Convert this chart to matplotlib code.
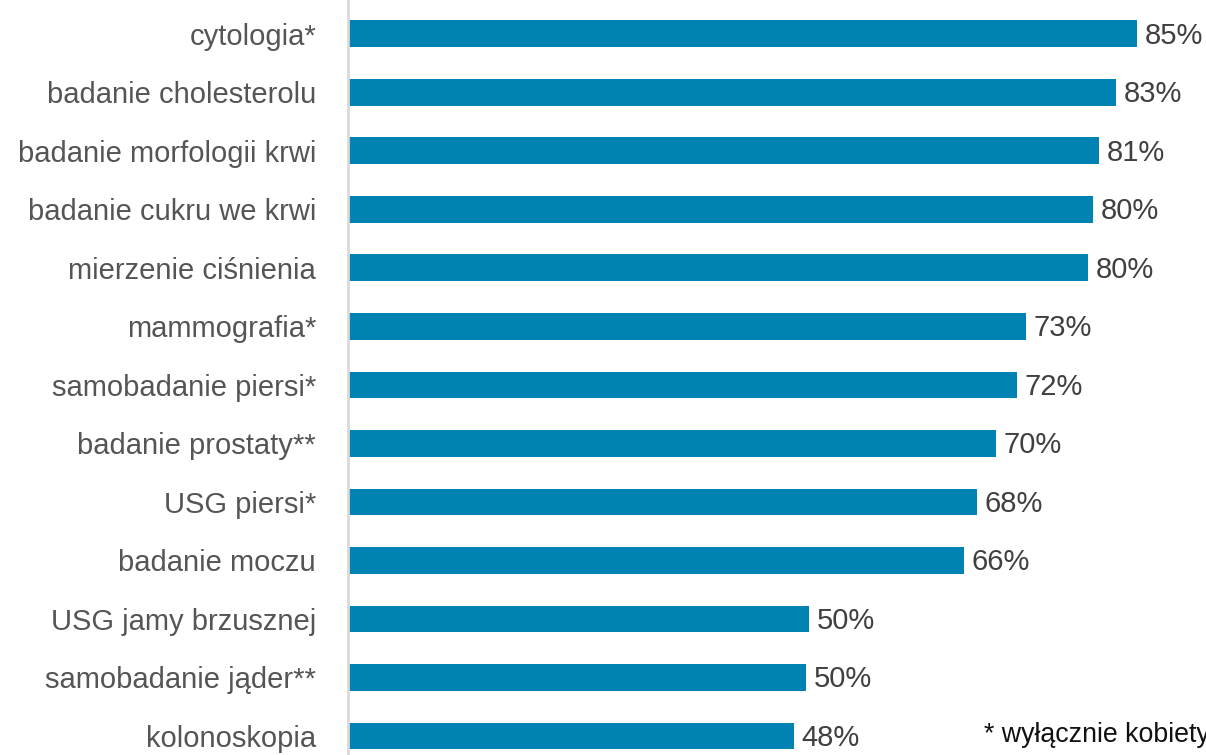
import matplotlib
matplotlib.use("Agg")
import matplotlib.pyplot as plt

categories = [
    "cytologia*", "badanie cholesterolu", "badanie morfologii krwi",
    "badanie cukru we krwi", "mierzenie ciśnienia", "mammografia*",
    "samobadanie piersi*", "badanie prostaty**", "USG piersi*",
    "badanie moczu", "USG jamy brzusznej", "samobadanie jąder**",
    "kolonoskopia",
]
values = [85.0, 82.7, 80.9, 80.2, 79.7, 73.0, 72.0, 69.8, 67.7, 66.3, 49.6, 49.3, 48.0]
value_labels = ["85%", "83%", "81%", "80%", "80%", "73%", "72%", "70%", "68%",
                "66%", "50%", "50%", "48%"]
footnotes = ["* wyłącznie kobiety", "** wyłącznie mężczyźni"]

plt.rcParams['font.family'] = ['Liberation Sans', 'DejaVu Sans']

fig = plt.figure(figsize=(12.06, 7.55), dpi=100)
ax = fig.add_axes([348 / 1206, 0, 1 - 348 / 1206, 1])

ypos = list(range(len(categories)))
bar_color = "#0083B3"
ax.barh(ypos, values, height=0.46, color=bar_color, left=0.1)
ax.set_xlim(0, 92.5)
ax.set_ylim(12.325, -0.58)

for y, v, lab in zip(ypos, values, value_labels):
    ax.text(v + 0.1 + 0.8, y + 0.03, lab, va="center", ha="left", fontsize=21,
            color="#404040")

ax.set_yticks(ypos)
ax.set_yticklabels(categories, fontsize=21, color="#555555")
ax.tick_params(axis="y", length=0, pad=23)
ax.set_xticks([])
for s in ["top", "right", "bottom"]:
    ax.spines[s].set_visible(False)
ax.spines["left"].set_color("#d9d9d9")
ax.spines["left"].set_linewidth(2)

fig.text(984 / 1206, 1 - 735 / 755, footnotes[0], fontsize=19.3, color="#111111",
         va="center", ha="left")
fig.text(984 / 1206, 1 - 770 / 755, footnotes[1], fontsize=19.3, color="#111111",
         va="center", ha="left")

fig.savefig("out.png", dpi=100)
